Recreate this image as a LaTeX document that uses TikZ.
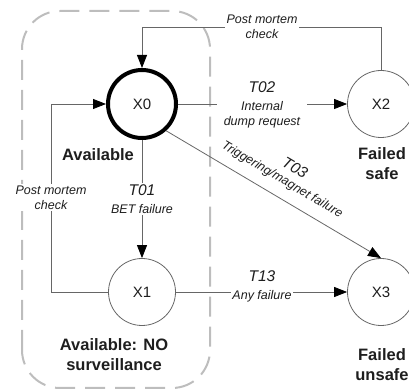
\documentclass[tikz,border=0pt]{standalone}
\usepackage{fontspec}
\setmainfont{Liberation Sans}
\usetikzlibrary{arrows.meta}
\definecolor{wirecol}{HTML}{666666}
\definecolor{ink}{HTML}{1E1E1E}
\definecolor{framecol}{HTML}{BDBDBD}
\begin{document}
\begin{tikzpicture}[x=1pt,y=1pt,
  state/.style={circle, draw=wirecol, line width=0.8pt, minimum size=67pt,
    inner sep=0pt, text=ink, font=\fontsize{15}{18}\selectfont},
  start state/.style={state, draw=black, line width=4pt, minimum size=68pt},
  wire/.style={draw=wirecol, line width=0.8pt},
  flow/.style={wire, -{Triangle[length=13pt,width=10pt,color=black]}},
  tag/.style={fill=white, inner sep=1.5pt, align=center, text=ink,
    font=\itshape\fontsize{12.5}{15}\selectfont},
  slopetag/.style={sloped, inner sep=0pt, text=ink,
    font=\itshape\fontsize{12.5}{15}\selectfont},
  caption/.style={align=center, text=ink, font=\bfseries\fontsize{16.5}{20}\selectfont},
  group/.style={draw=framecol, line width=2pt, dash pattern=on 20pt off 10pt,
    rounded corners=38pt}
]
\clip (0,0) rectangle (409,390);

% group of available states
\draw[group] (22,2) rectangle (210,379);

% states
\node[start state] (X0) at (142,286) {X0};
\node[state] (X1) at (142,98) {X1};
\node[state] (X2) at (381,286) {X2};
\node[state] (X3) at (381,98) {X3};

% transitions
\draw[flow] (X2.north) -- ++(0,43) -| (X0.north);
\draw[flow] (X1.west) -- ++(-57,0) |- (X0.west);
\draw[flow] (X0.south) -- (X1.north);
\draw[flow] (X0.east) -- (X2.west);
\draw[flow] (X1.east) -- (X3.west);
\draw[flow] (X0.-48) -- (X3.north)
  node[slopetag, pos=0.5, above=10.5pt] (t03a) {Triggering/magnet failure}
  node[slopetag, pos=0.52, above=28pt, font=\itshape\fontsize{15.5}{18}\selectfont] (t03) {T03};

% transition labels
\node[tag] (pmtop) at (262,363.5) {Post mortem\\check};
\node[tag] (pmleft) at (51,192.5) {Post mortem\\check};
\node[tag] (t01) at (142,191) {{\fontsize{15.5}{15}\selectfont T01}\\[3pt]BET failure};
\node[tag, inner xsep=7pt] (t02) at (262,285.5) {{\fontsize{15.5}{15}\selectfont T02}\\[3pt]Internal\\dump request};
\node[tag] (t13) at (262,104) {{\fontsize{15.5}{15}\selectfont T13}\\[3pt]Any failure};

% state captions
\node[caption] (capX0) at (98,235) {Available};
\node[caption] (capX2) at (382,226) {Failed\\safe};
\node[caption] (capX1) at (114,35) {Available: NO\\surveillance};
\node[caption] (capX3) at (382,25) {Failed\\unsafe};
\end{tikzpicture}
\end{document}
